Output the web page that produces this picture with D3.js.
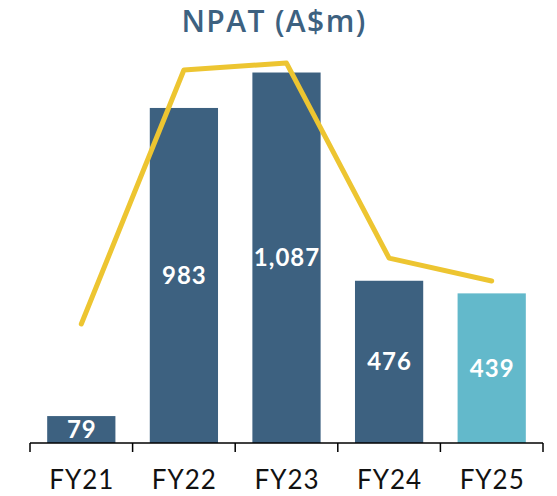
<!DOCTYPE html>
<html><head><meta charset="utf-8">
<script src="https://cdn.jsdelivr.net/npm/d3@7"></script>
<style>html,body{margin:0;padding:0;background:#fff;}svg{display:block;}</style>
</head><body>
<svg id="c" width="557" height="496"></svg>
<script>
const categories = ["FY21","FY22","FY23","FY24","FY25"];
const npat = [79, 983, 1087, 476, 439];
const npatLabels = ["79","983","1,087","476","439"];
const lineSeries = [29.1, 91.2, 92.9, 45.2, 39.6];
const highlight = ["FY25"];

const svg = d3.select("#c");
const x = d3.scaleBand().domain(categories).range([30, 543]).paddingInner(0.335).paddingOuter(0.1675);
const y = d3.scaleLinear().domain([0, 1200]).range([443, 34]);
const y2 = d3.scaleLinear().domain([0, 100]).range([443, 34]);

svg.append("text").attr("x", 274).attr("y", 31.5).attr("text-anchor","middle")
  .style("font-family","'Open Sans', Lato, sans-serif").style("font-weight","600")
  .style("font-size","30px").style("letter-spacing","1.4px").attr("fill","#3D6180").text("NPAT (A$m)");

svg.selectAll("rect.bar").data(categories).join("rect").attr("class","bar")
  .attr("x", d => x(d)).attr("width", x.bandwidth())
  .attr("y", (d,i) => y(npat[i])).attr("height", (d,i) => y(0) - y(npat[i]))
  .attr("fill", d => highlight.includes(d) ? "#63B9CB" : "#3D6180");

svg.selectAll("text.val").data(categories).join("text").attr("class","val")
  .attr("x", d => x(d) + x.bandwidth()/2 + 0.5)
  .attr("y", (d,i) => (y(npat[i]) + y(0))/2).attr("dy","0.35em")
  .attr("text-anchor","middle")
  .style("font-family","Lato, 'Open Sans', sans-serif").style("font-weight","700")
  .style("font-size","24px").style("letter-spacing","1px").attr("fill","#fff")
  .text((d,i) => npatLabels[i]);

const line = d3.line().x((d,i) => x(categories[i]) + x.bandwidth()/2).y(d => y2(d));
svg.append("path").datum(lineSeries).attr("d", line).attr("fill","none")
  .attr("stroke","#EDC531").attr("stroke-width",5).attr("stroke-linecap","round").attr("stroke-linejoin","round");

const axis = svg.append("g").attr("transform","translate(0,443)");
axis.append("line").attr("x1",30).attr("x2",543).attr("y1",0).attr("y2",0).attr("stroke","#000").attr("stroke-width",1.5);
const tickPos = categories.map(d => x(d) - x.step()*x.paddingInner()/2).concat([x(categories[categories.length-1]) + x.bandwidth() + x.step()*x.paddingInner()/2]);
axis.selectAll("line.tk").data(tickPos).join("line").attr("class","tk")
  .attr("x1", d => d).attr("x2", d => d).attr("y1",0).attr("y2",9).attr("stroke","#000").attr("stroke-width",1.5);
axis.selectAll("text").data(categories).join("text")
  .attr("x", d => x(d) + x.bandwidth()/2 + 0.5).attr("y", 46).attr("text-anchor","middle")
  .style("font-family","Lato, 'Open Sans', sans-serif").style("font-size","26px").style("letter-spacing","1px").attr("fill","#111")
  .text(d => d);
</script>
</body></html>
